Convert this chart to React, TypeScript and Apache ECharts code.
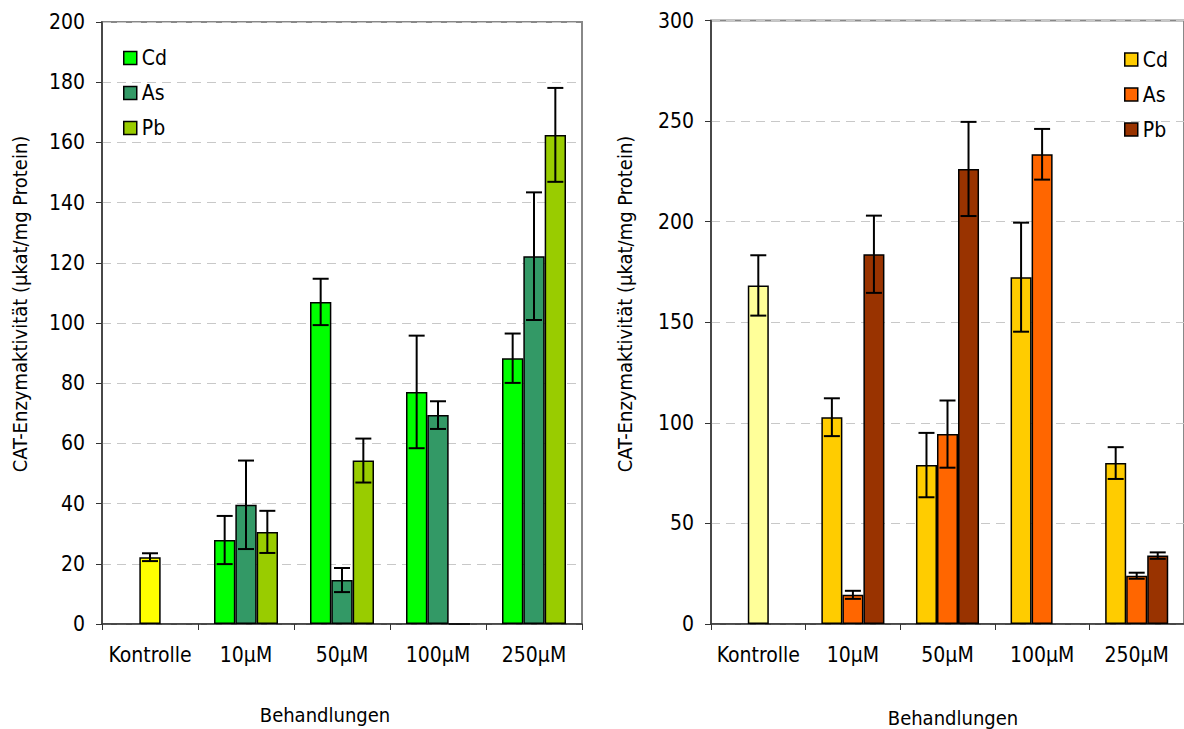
import React, { useEffect, useRef } from "react";
import * as echarts from "echarts";

const categories = ["Kontrolle", "10µM", "50µM", "100µM", "250µM"];
const seriesNames = ["Cd", "As", "Pb"];

// Left chart (green)
const leftCd = [null, 27.9, 107, 77.1, 88.3];
const leftAs = [22.2, 39.6, 14.6, 69.4, 122.2];
const leftPb = [null, 30.6, 54.3, 0, 162.5];
const leftCdErr = [null, 8, 7.7, 18.7, 8.2];
const leftAsErr = [1.3, 14.7, 4, 4.6, 21.2];
const leftPbErr = [null, 7, 7.3, null, 15.6];

// Right chart (orange)
const rightCd = [null, 102.8, 79, 172.4, 80];
const rightAs = [168.3, 14.5, 94.4, 233.5, 24];
const rightPb = [null, 183.8, 226.2, null, 34];
const rightCdErr = [null, 9.4, 16, 27.1, 7.9];
const rightAsErr = [15, 2, 16.7, 12.6, 1.5];
const rightPbErr = [null, 19.2, 23.4, null, 1.6];

const leftTicks = { min: 0, max: 200, interval: 20 };
const rightTicks = { min: 0, max: 300, interval: 50 };

const FONT = "'DejaVu Sans Condensed', 'DejaVu Sans', sans-serif";

const leftColors = ["#00FF00", "#339966", "#99CC00"];
const rightColors = ["#FFCC00", "#FF6600", "#993300"];
const leftKontrolleColor = "#FFFF00";
const rightKontrolleColor = "#FFFF99";

function buildBars(values: (number | null)[][], colors: string[], kColor: string, axisIdx: number) {
  return values.map((vals, s) => ({
    type: "bar",
    name: seriesNames[s],
    xAxisIndex: axisIdx,
    yAxisIndex: axisIdx,
    barGap: "0%",
    barCategoryGap: "33.33%",
    itemStyle: { color: colors[s], borderColor: "#000", borderWidth: 1.5 },
    data: vals.map((v, i) => {
      if (v === null) return "-";
      if (i === 0) return { value: v, itemStyle: { color: kColor } };
      return v;
    }),
    z: 2,
  }));
}

function buildErr(values: (number | null)[][], errs: (number | null)[][], axisIdx: number) {
  const data: number[][] = [];
  values.forEach((vals, s) => {
    vals.forEach((v, i) => {
      const e = errs[s][i];
      if (v !== null && e !== null && e !== undefined) data.push([i, s, v - e, v + e]);
    });
  });
  return {
    type: "custom",
    xAxisIndex: axisIdx,
    yAxisIndex: axisIdx,
    z: 5,
    silent: true,
    data,
    renderItem: (params: any, api: any) => {
      const cat = api.value(0);
      const s = api.value(1);
      const lo = api.value(2);
      const hi = api.value(3);
      const band = api.size([1, 0])[0];
      const bw = (band * (1 - 0.3333)) / 3;
      const cx = api.coord([cat, 0])[0] + (s - 1) * bw;
      const yT = api.coord([cat, hi])[1];
      const yB = api.coord([cat, lo])[1];
      const hw = 8;
      const style = { stroke: "#000", lineWidth: 2 };
      return {
        type: "group",
        children: [
          { type: "line", shape: { x1: cx, y1: yT, x2: cx, y2: yB }, style },
          { type: "line", shape: { x1: cx - hw, y1: yT, x2: cx + hw, y2: yT }, style },
          { type: "line", shape: { x1: cx - hw, y1: yB, x2: cx + hw, y2: yB }, style },
        ],
      };
    },
  };
}

function xAxis(idx: number) {
  return {
    type: "category",
    gridIndex: idx,
    data: categories,
    axisLine: { lineStyle: { color: "#333", width: 1.5 } },
    axisTick: { show: true, length: 6, interval: 0, lineStyle: { color: "#333" } },
    axisLabel: { color: "#000", fontSize: 21, fontFamily: FONT, margin: 20, interval: 0 },
  };
}

function yAxis(idx: number, t: { min: number; max: number; interval: number }) {
  return {
    type: "value",
    gridIndex: idx,
    min: t.min,
    max: t.max,
    interval: t.interval,
    axisLine: { show: true, lineStyle: { color: "#333", width: 1.5 } },
    axisTick: { show: true, length: 6, lineStyle: { color: "#333" } },
    axisLabel: { color: "#000", fontSize: 21, fontFamily: FONT, margin: 17 },
    splitLine: { show: true, lineStyle: { color: "#c8c8c8", type: [9, 6], width: 1 } },
  };
}

export default function App() {
  const ref = useRef<HTMLDivElement>(null);
  useEffect(() => {
    if (!ref.current) return;
    const chart = echarts.init(ref.current, null, { renderer: "svg" });
    const leftVals = [leftCd, leftAs, leftPb];
    const rightVals = [rightCd, rightAs, rightPb];
    const option: any = {
      animation: false,
      backgroundColor: "#fff",
      textStyle: { fontFamily: FONT },
      grid: [
        { left: 102, top: 22, width: 480, height: 602, show: true, borderColor: "#888", borderWidth: 2, backgroundColor: "transparent" },
        { left: 711, top: 20.5, width: 480, height: 603.5, show: true, borderColor: "#888", borderWidth: 2, backgroundColor: "transparent" },
      ],
      legend: [
        {
          orient: "vertical",
          left: 123,
          top: 47.5,
          padding: 0,
          itemWidth: 13,
          itemHeight: 13,
          itemGap: 14,
          icon: "rect",
          itemStyle: { borderColor: "#000", borderWidth: 1.5 },
          textStyle: { fontSize: 21, lineHeight: 20, color: "#000", fontFamily: FONT },
          data: seriesNames.map((n, i) => ({ name: n, itemStyle: { color: leftColors[i] } })),
          selectedMode: false,
        },
        {
          orient: "vertical",
          left: 1124,
          top: 49,
          padding: 0,
          itemWidth: 13,
          itemHeight: 13,
          itemGap: 14,
          icon: "rect",
          itemStyle: { borderColor: "#000", borderWidth: 1.5 },
          textStyle: { fontSize: 21, lineHeight: 20, color: "#000", fontFamily: FONT },
          data: seriesNames.map((n, i) => ({ name: n + " ", itemStyle: { color: rightColors[i] } })),
          formatter: (n: string) => n.trim(),
          selectedMode: false,
        },
      ],
      xAxis: [xAxis(0), xAxis(1)],
      yAxis: [yAxis(0, leftTicks), yAxis(1, rightTicks)],
      series: [
        ...buildBars(leftVals, leftColors, leftKontrolleColor, 0),
        buildErr(leftVals, [leftCdErr, leftAsErr, leftPbErr], 0),
        ...buildBars(rightVals, rightColors, rightKontrolleColor, 1).map((s: any) => ({ ...s, name: s.name + " " })),
        buildErr(rightVals, [rightCdErr, rightAsErr, rightPbErr], 1),
      ],
      graphic: [
        { type: "text", x: 20, y: 304, rotation: Math.PI / 2, style: { text: "CAT-Enzymaktivität (µkat/mg Protein)", fontSize: 20, fontFamily: FONT, fill: "#000", textAlign: "center", textVerticalAlign: "middle" } },
        { type: "text", x: 625, y: 304, rotation: Math.PI / 2, style: { text: "CAT-Enzymaktivität (µkat/mg Protein)", fontSize: 20, fontFamily: FONT, fill: "#000", textAlign: "center", textVerticalAlign: "middle" } },
        { type: "text", x: 325, y: 715, style: { text: "Behandlungen", fontSize: 20, fontFamily: FONT, fill: "#000", textAlign: "center", textVerticalAlign: "middle" } },
        { type: "text", x: 953, y: 718, style: { text: "Behandlungen", fontSize: 20, fontFamily: FONT, fill: "#000", textAlign: "center", textVerticalAlign: "middle" } },
      ],
    };
    chart.setOption(option);
    return () => chart.dispose();
  }, []);
  return <div ref={ref} style={{ position: "absolute", left: 0, top: 0, width: 1184, height: 729 }} />;
}
